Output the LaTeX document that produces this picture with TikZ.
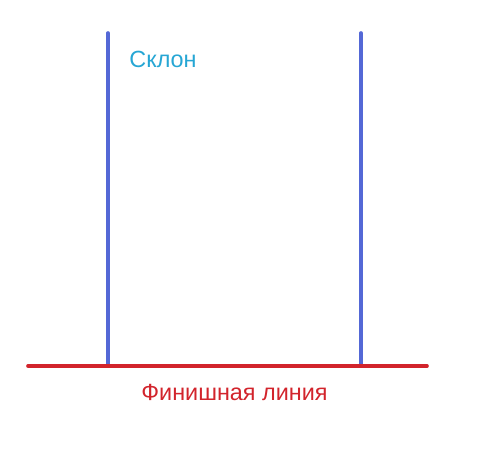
\documentclass[tikz,border=0pt]{standalone}
\usepackage{fontspec}
\setmainfont{Liberation Sans}
\usetikzlibrary{positioning}

\definecolor{slopeblue}{RGB}{84,104,214}
\definecolor{finishred}{RGB}{210,36,44}
\definecolor{labelcyan}{RGB}{38,166,212}

\begin{document}
\begin{tikzpicture}
  [
    x=1bp, y=-1bp,
    slope edge/.style={draw=slopeblue, line width=3.6bp, line cap=round},
    finish line/.style={draw=finishred, line width=3.6bp, line cap=round},
    label text/.style={font=\fontsize{23.4bp}{27bp}\selectfont, inner sep=0pt, anchor=base}
  ]
  \useasboundingbox (0,0) rectangle (499,475);
  % slope edges
  \coordinate (left top) at (108,33);
  \coordinate (left bottom) at (108,364);
  \coordinate (right top) at (361,33);
  \coordinate (right bottom) at (361,364);
  \draw[slope edge] (left top) -- (left bottom);
  \draw[slope edge] (right top) -- (right bottom);
  % finish line
  \coordinate (finish west) at (28,366);
  \coordinate (finish east) at (427,366);
  \draw[finish line] (finish west) -- (finish east);
  % labels
  \node[label text, text=labelcyan] (slope label) at (163,67.5) {Склон};
  \node[label text, text=finishred] (finish label) at (234.5,400.5) {Финишная линия};
\end{tikzpicture}
\end{document}
